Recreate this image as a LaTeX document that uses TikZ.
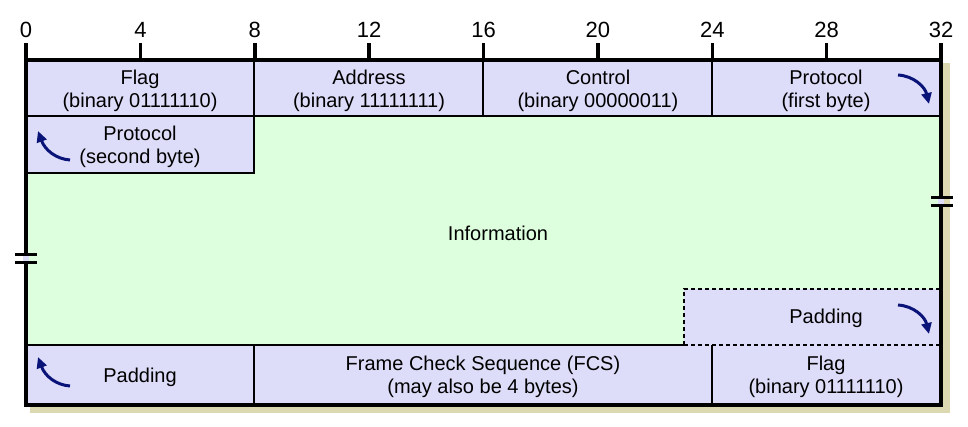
\documentclass[tikz,border=0pt]{standalone}
\usepackage{fontspec}
\setmainfont{Liberation Sans}
\usetikzlibrary{arrows.meta}
\definecolor{fieldblue}{RGB}{221,221,250}
\definecolor{infogreen}{RGB}{222,255,222}
\definecolor{shadowtan}{RGB}{220,216,178}
\definecolor{wrapnavy}{RGB}{10,20,120}

\begin{document}
\begin{tikzpicture}[x=1pt,y=-1pt,
  field/.style={font=\fontsize{20}{22.5}\selectfont, align=center, inner sep=0pt},
  bitlabel/.style={font=\fontsize{22}{24}\selectfont, inner sep=0pt},
  frame/.style={line width=3.5pt, line join=miter},
  cell/.style={line width=1.2pt},
  wrap/.style={wrapnavy, line width=3pt, -{Triangle[length=11pt,width=10pt]}}]
\useasboundingbox (0,0) rectangle (968,426);
% shadow behind the frame
\fill[shadowtan] (30,63) rectangle (950,413);
% information area, then the fields on top of it
\fill[infogreen] (26,60) rectangle (941,405);
\fill[fieldblue] (26,60) rectangle (941,116); \fill[fieldblue] (26,116) rectangle (254,173);
\fill[fieldblue] (684,289) rectangle (941,345); \fill[fieldblue] (26,345) rectangle (941,405);
% cell borders
\draw[cell] (26,116) -- (941,116);
\draw[cell] (254,60) -- (254,173) -- (26,173);
\draw[cell] (483,60) -- (483,116); \draw[cell] (712,60) -- (712,116);
\draw[cell, dash pattern=on 4pt off 3pt] (684,345) -- (684,289) -- (941,289); \draw[cell, dash pattern=on 4pt off 3pt] (684,345) -- (941,345);
\draw[cell] (26,345) -- (684,345);
\draw[cell] (254,345) -- (254,405); \draw[cell] (712,345) -- (712,405);
% frame and bit scale
\draw[frame] (26,43) -- (26,405) -- (941,405) -- (941,43);
\draw[frame] (26,60) -- (941,60);
\foreach \b in {4,8,...,28} \draw[frame] ({26+\b*28.594},43) -- ({26+\b*28.594},60);
\foreach \b in {0,4,...,32} \node[bitlabel] (bit\b) at ({26+\b*28.594},30) {\b};
% breaks in the frame
\fill[fieldblue] (23,255) rectangle (29,261); \draw[line width=3pt] (15,254) -- (37,254); \draw[line width=3pt] (15,262) -- (37,262);
\fill[fieldblue] (938,198) rectangle (944,204); \draw[line width=3pt] (931,197) -- (953,197); \draw[line width=3pt] (931,205) -- (953,205);
% field texts
\node[field] (flagopen) at (140,91) {Flag\\(binary 01111110)};
\node[field] (address) at (369,91) {Address\\(binary 11111111)};
\node[field] (control) at (598,91) {Control\\(binary 00000011)};
\node[field] (protofirst) at (826,91) {Protocol\\(first byte)};
\node[field] (protosecond) at (140,147) {Protocol\\(second byte)};
\node[field] (info) at (498,233) {Information};
\node[field] (padtop) at (826,318) {Padding};
\node[field] (padbottom) at (140,377) {Padding};
\node[field] (fcs) at (483,377) {Frame Check Sequence (FCS)\\(may also be 4 bytes)};
\node[field] (flagclose) at (826,377) {Flag\\(binary 01111110)};
% wrap-around arrows
\draw[wrap] (898,75) .. controls (914,76) and (925,87) .. (929,104);
\draw[wrap] (898,305) .. controls (914,306) and (925,317) .. (929,334);
\draw[wrap] (70,160) .. controls (56,159) and (45,150) .. (38,131);
\draw[wrap] (70,386) .. controls (56,385) and (45,376) .. (38,357);
\end{tikzpicture}
\end{document}
